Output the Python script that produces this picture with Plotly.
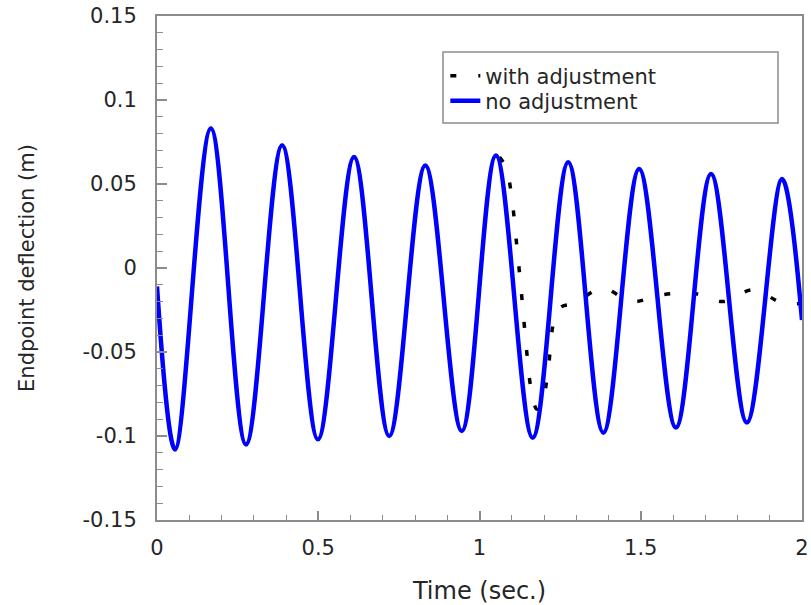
import plotly.graph_objects as go

# ---- data ----
t_no_adj = [0.0, 0.056, 0.167, 0.276, 0.388, 0.499, 0.611, 0.720, 0.832, 0.945,
            1.051, 1.165, 1.275, 1.384, 1.495, 1.609, 1.718, 1.829, 1.938, 2.0]
y_no_adj = [-0.011, -0.108, 0.083, -0.105, 0.073, -0.102, 0.066, -0.100, 0.061, -0.097,
            0.067, -0.101, 0.063, -0.098, 0.059, -0.095, 0.056, -0.092, 0.053, -0.031]

t_adj = [1.062, 1.082, 1.098, 1.116, 1.132, 1.147, 1.160, 1.178, 1.196, 1.213,
         1.234, 1.255, 1.296, 1.380, 1.473, 1.563, 1.662, 1.755, 1.848, 1.941, 2.0]
y_adj = [0.066, 0.060, 0.045, 0.0125, -0.019, -0.051, -0.072, -0.084, -0.079, -0.060,
         -0.029, -0.023, -0.021, -0.012, -0.020, -0.016, -0.015, -0.020, -0.013, -0.021, -0.021]

x_tick_vals = [0, 0.5, 1, 1.5, 2]
x_tick_text = ["0", "0.5", "1", "1.5", "2"]
y_tick_vals = [-0.15, -0.1, -0.05, 0, 0.05, 0.1, 0.15]
y_tick_text = ["-0.15", "-0.1", "-0.05", "0", "0.05", "0.1", "0.15"]

FONT = "DejaVu Sans"
TXT = "#262626"
FRAME = "#8c8c8c"

fig = go.Figure()
fig.add_trace(go.Scatter(
    x=t_adj, y=y_adj, mode="lines", name="with adjustment", legend="legend",
    showlegend=True,
    line=dict(color="black", width=3.5, dash="6px,22px", shape="spline", smoothing=1.0),
))
fig.add_trace(go.Scatter(
    x=t_no_adj, y=y_no_adj, mode="lines", name="no adjustment", legend="legend2",
    showlegend=True,
    line=dict(color="#0000ff", width=4.5, shape="spline", smoothing=1.0),
))

axis_common = dict(
    showline=True, linecolor=FRAME, linewidth=2, mirror=True, automargin=False,
    showgrid=False, zeroline=False, ticks="inside", tickcolor=FRAME, tickwidth=1.5,
    tickfont=dict(family=FONT, size=21, color=TXT),
)

fig.update_layout(
    width=811, height=605,
    showlegend=True,
    margin=dict(l=157, r=9, t=16, b=85, autoexpand=False),
    plot_bgcolor="white", paper_bgcolor="white",
    xaxis=dict(
        range=[0, 2], tickmode="array", tickvals=x_tick_vals, ticktext=x_tick_text,
        ticklen=9, ticklabelstandoff=8,
        minor=dict(tickmode="linear", tick0=0, dtick=0.1, ticklen=5, ticks="inside",
                   tickcolor=FRAME, tickwidth=1),
        title=dict(text="Time (sec.)", font=dict(family=FONT, size=24, color=TXT), standoff=25),
        **axis_common,
    ),
    yaxis=dict(
        range=[-0.15, 0.15], tickmode="array", tickvals=y_tick_vals, ticktext=y_tick_text,
        ticklen=10, ticklabelstandoff=14,
        minor=dict(tickmode="linear", tick0=0, dtick=0.01, ticklen=6, ticks="inside",
                   tickcolor=FRAME, tickwidth=1),
        title=dict(text="Endpoint deflection (m)", font=dict(family=FONT, size=21, color=TXT), standoff=42),
        **axis_common,
    ),
    legend=dict(x=0.447, y=0.881, xanchor="left", yanchor="middle", visible=True,
                bgcolor="rgba(0,0,0,0)", borderwidth=0,
                font=dict(family=FONT, size=21, color=TXT)),
    legend2=dict(x=0.447, y=0.831, xanchor="left", yanchor="middle", visible=True,
                 bgcolor="rgba(0,0,0,0)", borderwidth=0,
                 font=dict(family=FONT, size=21, color=TXT)),
    shapes=[dict(type="rect", xref="paper", yref="paper",
                 x0=0.4434, x1=0.9628, y0=0.7877, y1=0.9286,
                 line=dict(color=FRAME, width=1.5), fillcolor="rgba(0,0,0,0)", layer="above")],
)

fig.write_html("out.html")
